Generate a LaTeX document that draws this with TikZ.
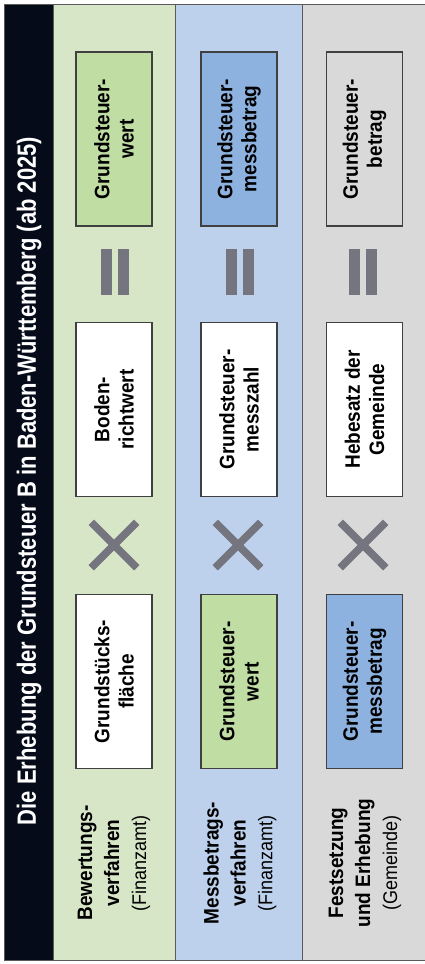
\documentclass[tikz,border=0pt]{standalone}
\usepackage{fontspec}
\setmainfont{Liberation Sans}
\usepackage{xcolor}
\usetikzlibrary{shapes.misc, positioning}

\definecolor{titlebg}{HTML}{050B19}
\definecolor{greenbg}{HTML}{D8E6C8}
\definecolor{greenbox}{HTML}{C0DDA4}
\definecolor{bluebg}{HTML}{BDD1EC}
\definecolor{bluebox}{HTML}{8EB2E0}
\definecolor{graybg}{HTML}{D9D9D9}
\definecolor{opgray}{HTML}{75757F}
\definecolor{frame}{HTML}{5A5A5A}

\begin{document}
\begin{tikzpicture}[
      x=1pt, y=-1pt,
      band/.style  ={draw=frame, line width=0.8pt},
      box/.style   ={rectangle, draw=black!75, line width=1.3pt, rotate=90, yscale=1.1,
                     minimum width=174pt, minimum height=69pt, inner sep=2pt,
                     align=center, font=\bfseries\fontsize{19}{22}\selectfont},
      lab/.style   ={rotate=90, yscale=1.1, align=center, inner sep=0pt,
                     font=\bfseries\fontsize{19}{24.5}\selectfont},
      eqbar/.style ={rectangle, fill=opgray, minimum width=11pt, minimum height=46pt, inner sep=0pt},
      times/.style ={cross out, draw=opgray, line width=7.5pt, minimum size=38pt, inner sep=0pt}
    ]
    \useasboundingbox (0,0) rectangle (425,964);
    \fill[white] (0,0) rectangle (425,964);

    % Baender
    \filldraw[band, fill=greenbg] (53,4) rectangle (175,960);
    \filldraw[band, fill=bluebg]  (175,4) rectangle (302,960);
    \filldraw[band, fill=graybg]  (302,4) rectangle (426,960);
    \filldraw[band, fill=titlebg] (4,4) rectangle (53,960);

    % Titel
    \node[rotate=90, yscale=1.2, text=white, font=\bfseries\fontsize{22}{26}\selectfont] (T) at (29,481)
      {Die Erhebung der Grundsteuer B in Baden-W\"urttemberg (ab 2025)};

    % Bewertungsverfahren
    \node[lab] (L1) at (114,863) {Bewertungs-\\verfahren\\{\mdseries\fontsize{18}{24.5}\selectfont(Finanzamt)}};
    \node[box, fill=white]    (F1) at (114,681.5) {Grundst\"ucks-\\fl\"ache};
    \node[box, fill=white]    (B1) at (114,409.5) {Boden-\\richtwert};
    \node[box, fill=greenbox] (W1) at (114,139)   {Grundsteuer-\\wert};

    % Messbetragsverfahren
    \node[lab] (L2) at (240,863) {Messbetrags-\\verfahren\\{\mdseries\fontsize{18}{24.5}\selectfont(Finanzamt)}};
    \node[box, fill=greenbox] (F2) at (239,681.5) {Grundsteuer-\\wert};
    \node[box, fill=white]    (B2) at (239,409.5) {Grundsteuer-\\messzahl};
    \node[box, fill=bluebox]  (W2) at (239,139)   {Grundsteuer-\\messbetrag};

    % Festsetzung und Erhebung
    \node[lab] (L3) at (365,863) {Festsetzung\\und Erhebung\\{\mdseries\fontsize{18}{24.5}\selectfont(Gemeinde)}};
    \node[box, fill=bluebox]  (F3) at (364.5,681.5) {Grundsteuer-\\messbetrag};
    \node[box, fill=white]    (B3) at (364.5,409.5) {Hebesatz der\\Gemeinde};
    \node[box, fill=graybg]   (W3) at (364.5,139)   {Grundsteuer-\\betrag};

    % Operatoren
    \node[times] (X1) at (114,545) {};
    \node[times] (X2) at (238,545) {};
    \node[times] (X3) at (363,545) {};

    \node[eqbar] (E1a) at (106,272) {};
    \node[eqbar] (E1b) at (123.5,272) {};
    \node[eqbar] (E2a) at (231.5,272) {};
    \node[eqbar] (E2b) at (248.5,272) {};
    \node[eqbar] (E3a) at (354.5,272) {};
    \node[eqbar] (E3b) at (371.5,272) {};

  \end{tikzpicture}
\end{document}
